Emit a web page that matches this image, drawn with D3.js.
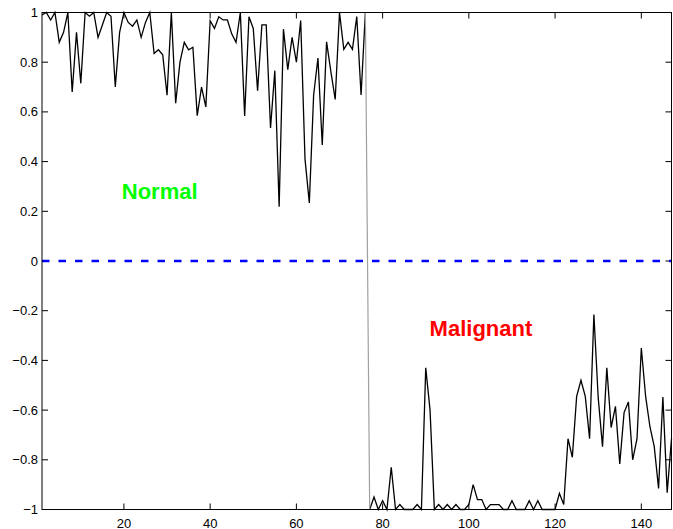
<html>
<head>
    <title>Normal vs Malignant</title>
    <script src="https://d3js.org/d3.v7.min.js"></script>
    <style>
        body { margin: 0; background: #fff; }
        svg { font-family: "Liberation Sans", Arial, sans-serif; }
        .tick-label { font-size: 13px; fill: #000; }
        .frame { fill: none; stroke: #000; stroke-width: 1; }
        .tick { stroke: #000; stroke-width: 1; }
        .series { fill: none; stroke: #000; stroke-width: 1.3; stroke-linejoin: miter; }
        .label { font-size: 22px; font-weight: bold; }
    </style>
</head>
<body>
<div id="chart"></div>
<script>
    // values, samples 1..76 (normal) and 77..147 (malignant)
    var normalValues = [0.99, 1.0, 0.97, 1.0, 0.88, 0.92, 1.0, 0.68, 0.92, 0.715,
        1.0, 0.985, 1.0, 0.90, 0.95, 1.0, 0.985, 0.70, 0.92, 1.0,
        0.96, 0.945, 0.97, 0.90, 0.96, 1.0, 0.835, 0.85, 0.83, 0.667,
        1.0, 0.635, 0.80, 0.88, 0.85, 0.86, 0.585, 0.70, 0.62, 0.967,
        0.936, 0.983, 0.97, 0.97, 0.914, 0.88, 1.0, 0.584, 0.983, 0.936,
        0.685, 0.95, 0.95, 0.535, 0.766, 0.218, 0.933, 0.77, 0.90, 0.80,
        0.968, 0.41, 0.234, 0.668, 0.817, 0.467, 0.882, 0.762, 0.65, 1.0,
        0.852, 0.88, 0.852, 0.984, 0.668, 1.0];
    var malignantValues = [-1, -0.95, -1, -0.965, -1, -0.83, -1, -0.98, -1, -1,
        -1, -0.98, -1, -0.43, -0.60, -1, -0.98, -1, -0.98, -1,
        -0.98, -1, -1, -0.98, -0.90, -0.96, -0.96, -1, -0.98, -0.98,
        -0.98, -1, -1, -0.965, -1, -1, -1, -0.965, -1, -0.965,
        -1, -1, -1, -1, -0.935, -0.98, -0.715, -0.79, -0.545, -0.48,
        -0.545, -0.715, -0.215, -0.55, -0.747, -0.43, -0.67, -0.585, -0.817, -0.61,
        -0.567, -0.80, -0.715, -0.35, -0.545, -0.667, -0.747, -0.915, -0.547, -0.932,
        -0.715];
    var xTicks = [20, 40, 60, 80, 100, 120, 140];
    var yTicks = [1, 0.8, 0.6, 0.4, 0.2, 0, -0.2, -0.4, -0.6, -0.8, -1];
    var yTickLabels = ["1", "0.8", "0.6", "0.4", "0.2", "0", "\u22120.2", "\u22120.4", "\u22120.6", "\u22120.8", "\u22121"];
    var threshold = 0;
    var classNames = ["Normal", "Malignant"];
    var classLabelPos = [[19.5, 0.25], [90.9, -0.3]];

    var width = 673;
    var height = 529;
    var margin = {left: 42, right: 1.5, top: 12.5, bottom: 19.5};

    var normal = normalValues.map((v, i) => ({x: i + 1, y: v}));
    var malignant = malignantValues.map((v, i) => ({x: normalValues.length + i + 1, y: v}));
    var nTotal = normalValues.length + malignantValues.length;

    var xScale = d3.scaleLinear()
        .domain([1, nTotal])
        .range([margin.left, width - margin.right]);
    var yScale = d3.scaleLinear()
        .domain([-1, 1])
        .range([height - margin.bottom, margin.top]);

    var svg = d3.select("#chart").append("svg")
        .attr("width", width)
        .attr("height", height);

    var x0 = xScale.range()[0], x1 = xScale.range()[1];
    var y0 = yScale.range()[1], y1 = yScale.range()[0];
    var tickLen = 6;

    /* ticks on all four sides, pointing inward */
    var ticks = svg.append("g");
    xTicks.forEach(function(t) {
        ticks.append("line").attr("class", "tick")
            .attr("x1", xScale(t)).attr("x2", xScale(t))
            .attr("y1", y1).attr("y2", y1 - tickLen);
        ticks.append("line").attr("class", "tick")
            .attr("x1", xScale(t)).attr("x2", xScale(t))
            .attr("y1", y0).attr("y2", y0 + tickLen);
        svg.append("text").attr("class", "tick-label")
            .attr("x", xScale(t)).attr("y", y1 + 18)
            .attr("text-anchor", "middle")
            .text(t);
    });
    yTicks.forEach(function(t, i) {
        ticks.append("line").attr("class", "tick")
            .attr("x1", x0).attr("x2", x0 + tickLen)
            .attr("y1", yScale(t)).attr("y2", yScale(t));
        ticks.append("line").attr("class", "tick")
            .attr("x1", x1).attr("x2", x1 - tickLen)
            .attr("y1", yScale(t)).attr("y2", yScale(t));
        svg.append("text").attr("class", "tick-label")
            .attr("x", x0 - 4).attr("y", yScale(t))
            .attr("dy", "0.35em")
            .attr("text-anchor", "end")
            .text(yTickLabels[i]);
    });

    /* data line */
    var line = d3.line()
        .x(d => xScale(d.x))
        .y(d => yScale(d.y));
    svg.append("path").attr("class", "series").attr("d", line(normal));
    svg.append("path").attr("class", "series").attr("d", line(malignant));
    // steep jump between the two groups renders light in the original
    svg.append("path")
        .attr("d", line([normal[normal.length - 1], malignant[0]]))
        .attr("fill", "none")
        .attr("stroke", "#a0a0a0")
        .attr("stroke-width", 1.2);

    /* threshold */
    svg.append("line")
        .attr("x1", xScale(1)).attr("x2", xScale(nTotal))
        .attr("y1", yScale(threshold)).attr("y2", yScale(threshold))
        .attr("stroke", "#0000ff")
        .attr("stroke-width", 2.6)
        .attr("stroke-dasharray", "7.5,9");

    /* frame */
    svg.append("rect").attr("class", "frame")
        .attr("x", x0).attr("y", y0)
        .attr("width", x1 - x0).attr("height", y1 - y0);

    /* class labels */
    svg.selectAll(".label")
        .data(classNames).enter()
        .append("text")
        .attr("class", "label")
        .attr("x", (d, i) => xScale(classLabelPos[i][0]))
        .attr("y", (d, i) => yScale(classLabelPos[i][1]))
        .attr("fill", (d, i) => i === 0 ? "#00ff00" : "#ff0000")
        .text(d => d);
</script>
</body>
</html>
